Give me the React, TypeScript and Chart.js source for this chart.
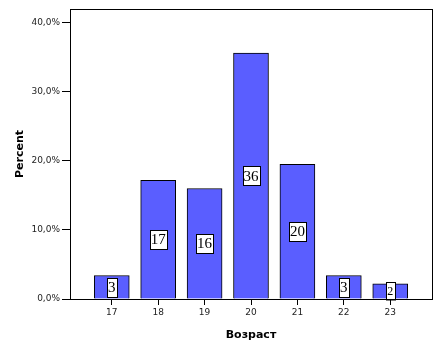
import React, { useEffect, useRef } from "react";
import { Chart, registerables } from "chart.js";

Chart.register(...registerables);

const ages = [17, 18, 19, 20, 21, 22, 23];
const percents = [3.4, 17.2, 16.0, 35.6, 19.5, 3.4, 2.2];
const counts = [3, 17, 16, 36, 20, 3, 2];
const yTicks = [0, 10, 20, 30, 40];

const labelPlugin = {
  id: "countLabels",
  afterDatasetsDraw(chart: any) {
    const ctx = chart.ctx;
    const meta = chart.getDatasetMeta(0);
    ctx.save();
    meta.data.forEach((bar: any, i: number) => {
      const h = Math.abs(bar.base - bar.y);
      const small = h < 18;
      const size = small ? 12 : 15;
      ctx.font = `${size}px "Liberation Serif", "Times New Roman", serif`;
      const text = String(counts[i]);
      const tw = ctx.measureText(text).width;
      const bw = Math.round(tw + (small ? 3 : 2));
      const bh = small ? 17.5 : 19;
      const cy = (bar.y + bar.base) / 2;
      const x0 = Math.round(bar.x - bw / 2) + 0.5;
      const y0 = Math.round(cy - bh / 2) + 0.5;
      ctx.fillStyle = "#ffffff";
      ctx.fillRect(x0, y0, bw, bh);
      ctx.strokeStyle = "#000000";
      ctx.lineWidth = 1;
      ctx.strokeRect(x0, y0, bw, bh);
      ctx.fillStyle = "#000000";
      ctx.textAlign = "center";
      ctx.textBaseline = "middle";
      ctx.fillText(text, bar.x, cy + 1);
    });
    ctx.restore();
  },
};

const framePlugin = {
  id: "frame",
  afterDraw(chart: any) {
    const { ctx, chartArea } = chart;
    ctx.save();
    ctx.strokeStyle = "#000000";
    ctx.lineWidth = 1;
    ctx.strokeRect(
      Math.round(chartArea.left) + 0.5,
      Math.round(chartArea.top) + 0.5,
      Math.round(chartArea.right - chartArea.left),
      Math.round(chartArea.bottom - chartArea.top)
    );
    ctx.restore();
  },
};

export default function App() {
  const ref = useRef<HTMLCanvasElement>(null);
  useEffect(() => {
    document.body.style.margin = "0";
    const canvas = ref.current!;
    const tickFont = { family: "DejaVu Sans", size: 9 };
    const chart = new Chart(canvas, {
      type: "bar",
      data: {
        datasets: [
          {
            data: ages.map((a, i) => ({ x: a, y: percents[i] })),
            backgroundColor: "#5a5eff",
            borderColor: "#000000",
            borderWidth: 1,
            barThickness: 35,
          },
        ],
      },
      options: {
        animation: false,
        responsive: false,
        devicePixelRatio: 1,
        layout: { padding: { left: 0, right: 9, top: 9, bottom: 0 } },
        plugins: { legend: { display: false }, tooltip: { enabled: false } },
        scales: {
          x: {
            type: "linear",
            offset: false,
            min: 16.1,
            max: 23.9,
            afterBuildTicks: (s: any) => {
              s.ticks = ages.map((a) => ({ value: a }));
            },
            afterFit: (s: any) => {
              s.height = 54;
            },
            ticks: {
              font: tickFont,
              color: "#222",
              padding: 2,
              callback: (v: any) => String(v),
              maxRotation: 0,
            },
            grid: { drawOnChartArea: false, drawTicks: true, tickLength: 6, color: "#000", offset: false },
            border: { display: true, color: "#000" },
            title: {
              display: true,
              text: "Возраст",
              font: { family: "DejaVu Sans", size: 11, weight: "bold" },
              color: "#000",
              padding: { top: 11, bottom: 11 },
            },
          },
          y: {
            type: "linear",
            min: 0,
            max: 42,
            afterBuildTicks: (s: any) => {
              s.ticks = yTicks.map((v) => ({ value: v }));
            },
            afterFit: (s: any) => {
              s.width = 70;
            },
            ticks: {
              font: tickFont,
              color: "#222",
              padding: 2,
              callback: (v: any) => Number(v).toFixed(1).replace(".", ",") + "%",
            },
            grid: { drawOnChartArea: false, drawTicks: true, tickLength: 8, color: "#000" },
            border: { display: true, color: "#000" },
            title: {
              display: true,
              text: "Percent",
              font: { family: "DejaVu Sans", size: 11, weight: "bold" },
              color: "#000",
              padding: { top: 14, bottom: 14 },
            },
          },
        },
      },
      plugins: [labelPlugin, framePlugin],
    } as any);
    return () => chart.destroy();
  }, []);
  return <canvas ref={ref} width={441} height={353} style={{ display: "block" }} />;
}
